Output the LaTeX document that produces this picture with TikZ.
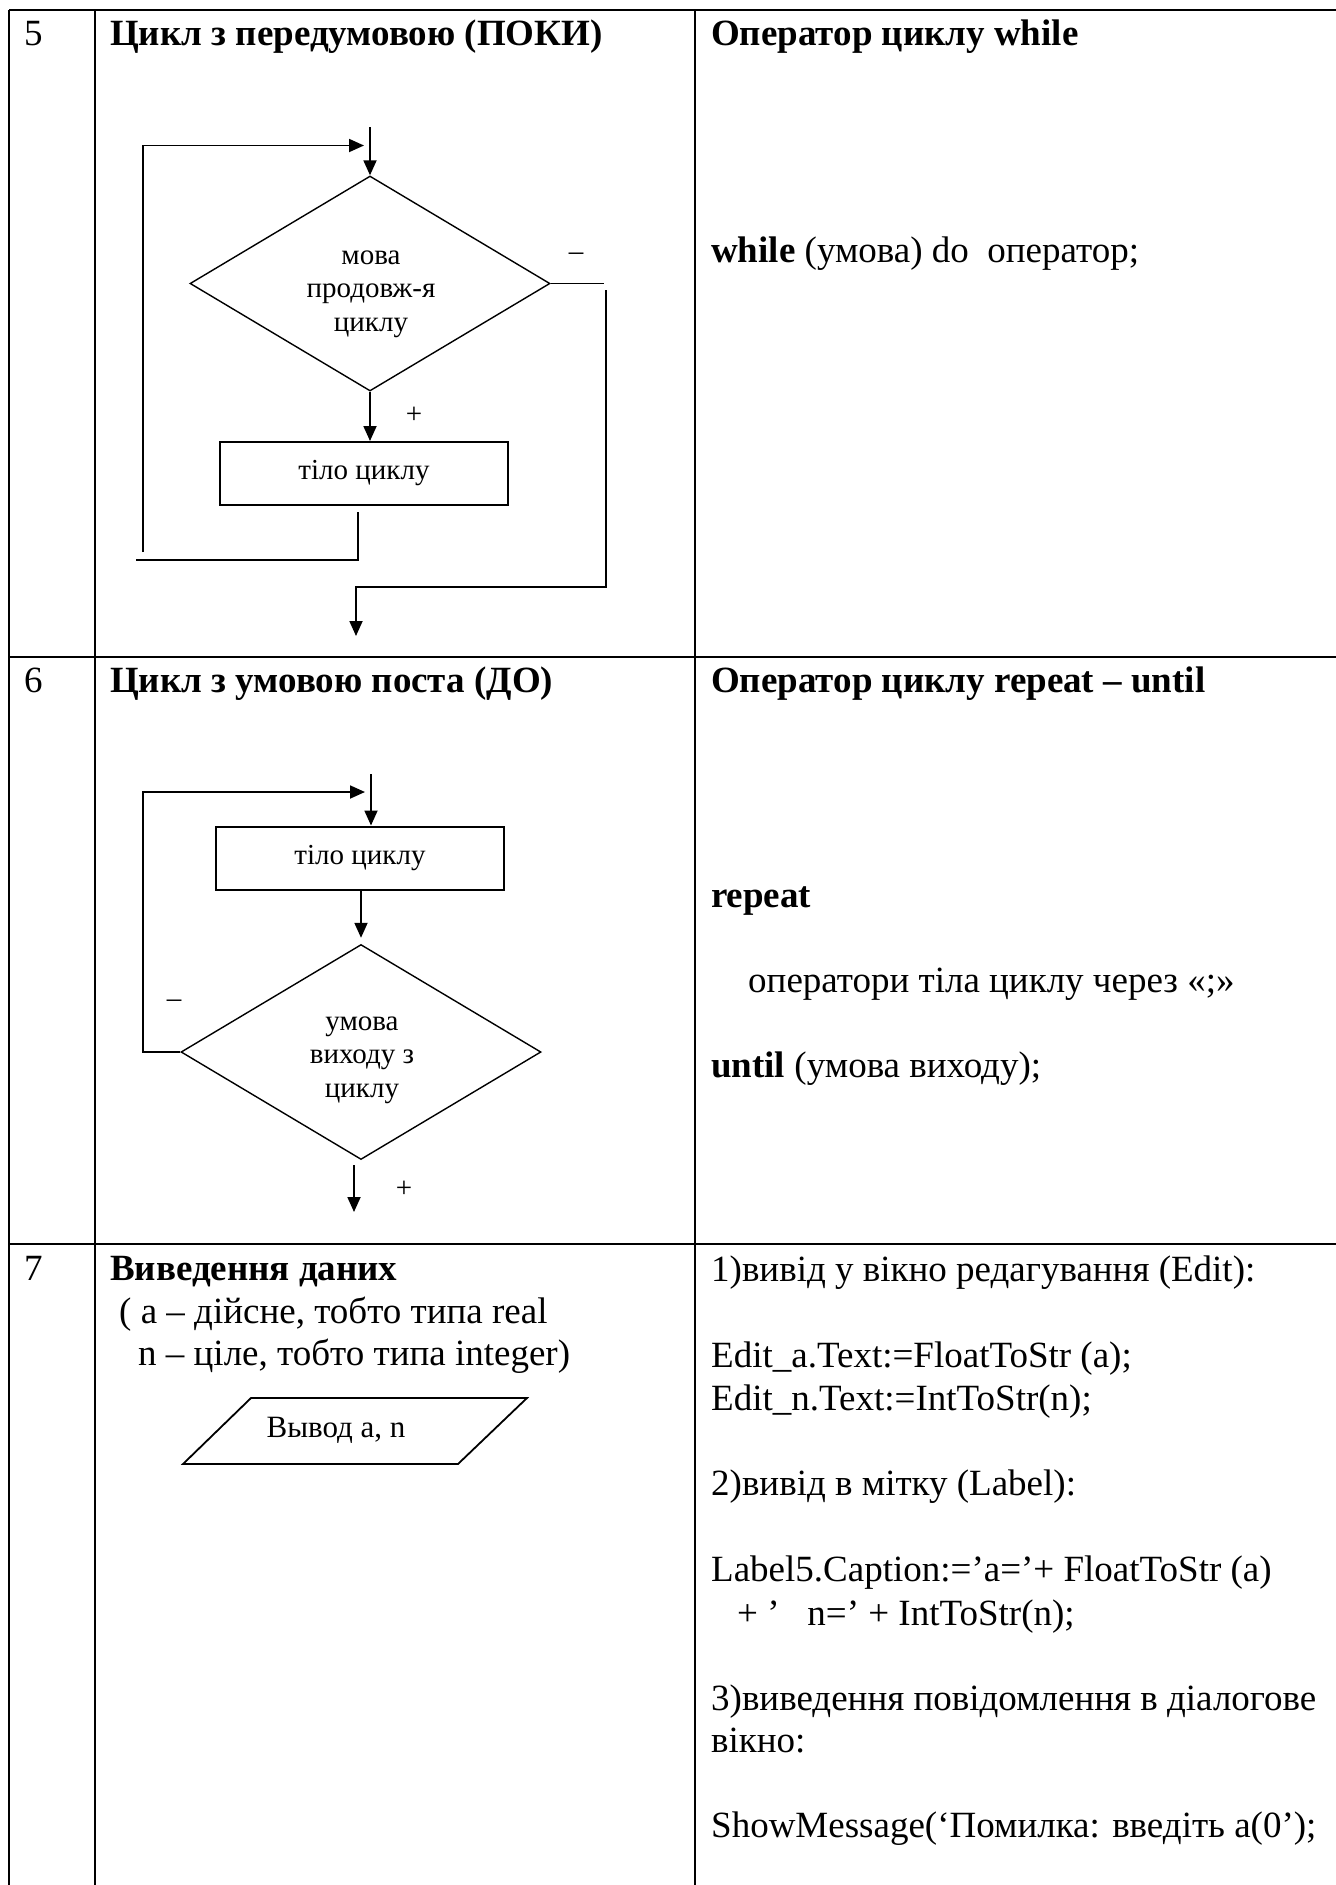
\documentclass[tikz,border=0pt]{standalone}
\usepackage{fontspec}
\setmainfont{Liberation Serif}
\usetikzlibrary{arrows.meta,shapes.geometric}

\begin{document}
\begin{tikzpicture}[x=1pt,y=-1pt,
  grid/.style={line width=2.4pt},
  flow/.style={line width=1.8pt},
  arr/.style={flow,-{Triangle[length=15pt,width=13pt]}},
  boxn/.style={draw,rectangle,line width=2pt,minimum width=288pt,minimum height=63pt,inner sep=0pt,font=\fontsize{29}{33.5}\selectfont},
  dia/.style={draw,diamond,shape aspect=1.674,minimum width=360pt,minimum height=215pt,inner sep=0pt,line width=1.4pt},
  txt/.style={anchor=base west,inner sep=0pt,font=\fontsize{37}{42.6}\selectfont},
  btxt/.style={txt,font=\fontsize{37}{42.6}\selectfont\bfseries},
  small/.style={inner sep=0pt,align=center,font=\fontsize{29}{33.5}\selectfont},
]
\useasboundingbox (0,0) rectangle (1336,1885);
\fill[white] (0,0) rectangle (1336,1885);

% table grid
\draw[grid] (9,10) -- (1336,10);
\draw[grid] (9,10) -- (9,1885);
\draw[grid] (95,10) -- (95,1885);
\draw[grid] (695,10) -- (695,1885);
\draw[grid] (9,657) -- (1336,657);
\draw[grid] (9,1244) -- (1336,1244);

% ---------- row 5 ----------
\node[txt]  (n5)  at (24,45)  {5};
\node[btxt] (h5)  at (110,45) {Цикл з передумовою (ПОКИ)};
\node[btxt] (o5)  at (711,45) {Оператор циклу while};
\node[txt]  (c5)  at (711,262) {\textbf{while} (умова) do\ \ оператор;};

\node[dia] (d1) at (370,283.5) {};
\node[small] (d1t) at (371,294) {мова\\продовж-я\\циклу};
\node[boxn] (b1) at (364,473.5) {тіло циклу};
\node[small] (p1) at (414,415) {+};
\node[small] (m1) at (576,257) {–};

\coordinate (e1) at (370,127);
\draw[arr] (e1) -- (d1.north);
\draw[arr] (d1.south) -- (d1.south |- b1.north);
% return branch
\coordinate (r1a) at (358,512);
\coordinate (r1b) at (358,560);
\coordinate (r1c) at (136,560);
\draw[flow] (r1a) -- (r1b) -- (r1c);
\coordinate (r1d) at (143,552);
\coordinate (r1e) at (143,145.5);
\coordinate (r1f) at (364,145.5);
\draw[arr] (r1d) -- (r1e) -- (r1f);
% exit branch
\coordinate (x1a) at (604,283.5);
\draw[flow] (d1.east) -- (x1a);
\coordinate (x1b) at (606,290);
\coordinate (x1c) at (606,587);
\coordinate (x1d) at (356,587);
\coordinate (x1e) at (356,636);
\draw[arr] (x1b) -- (x1c) -- (x1d) -- (x1e);

% ---------- row 6 ----------
\node[txt]  (n6)  at (24,692)  {6};
\node[btxt] (h6)  at (110,692) {Цикл з умовою поста (ДО)};
\node[btxt] (o6)  at (711,692) {Оператор циклу repeat – until};
\node[btxt] (c6a) at (711,907) {repeat};
\node[txt]  (c6b) at (748,992) {оператори тіла циклу через «;»};
\node[txt]  (c6c) at (711,1077) {\textbf{until} (умова виходу);};

\node[boxn] (b2) at (360,858) {тіло циклу};
\node[dia] (d2) at (361,1052) {};
\node[small] (d2t) at (362,1060) {умова\\виходу з\\циклу};
\node[small] (m2) at (174,1004) {–};
\node[small] (p2) at (404,1189) {+};

\coordinate (e2) at (371,774);
\draw[arr] (e2) -- (e2 |- b2.north);
\draw[arr,shorten >=6pt] (b2.south -| d2.north) -- (d2.north);
\coordinate (r2a) at (143,1052);
\coordinate (r2b) at (143,792);
\coordinate (r2c) at (365,792);
\draw[arr] (d2.west) -- (r2a) -- (r2b) -- (r2c);
\coordinate (x2a) at (354,1165);
\coordinate (x2b) at (354,1212);
\draw[arr] (x2a) -- (x2b);

% ---------- row 7 ----------
\node[txt]  (n7)  at (24,1280)  {7};
\node[btxt] (h7)  at (110,1280) {Виведення даних};
\node[txt]  (h7a) at (119,1323) {( а – дійсне, тобто типа real};
\node[txt]  (h7b) at (138,1365) {n – ціле, тобто типа integer)};

\draw[line width=1.8pt] (183,1464) -- (251,1398) -- (527,1398) -- (458,1464) -- cycle;
\node[anchor=base,inner sep=0pt,font=\fontsize{31}{35}\selectfont] (io) at (336,1437) {Вывод а, n};

\node[txt] (t1) at (711,1281) {1)вивід у вікно редагування (Edit):};
\node[txt] (t2) at (711,1367) {Edit\_a.Text:=FloatToStr (a);};
\node[txt] (t3) at (711,1410) {Edit\_n.Text:=IntToStr(n);};
\node[txt] (t4) at (711,1495) {2)вивід в мітку (Label):};
\node[txt] (t5) at (711,1581) {Label5.Caption:=’a=’+ FloatToStr (a)};
\node[txt] (t6) at (737,1625) {+ ’\ \ \ n=’ + IntToStr(n);};
\node[txt] (t7) at (711,1710) {3)виведення повідомлення в діалогове};
\node[txt] (t8) at (711,1752) {вікно:};
\node[txt] (t9) at (711,1837) {ShowMessage(‘Помилка: введіть а(0’);};
\end{tikzpicture}
\end{document}
